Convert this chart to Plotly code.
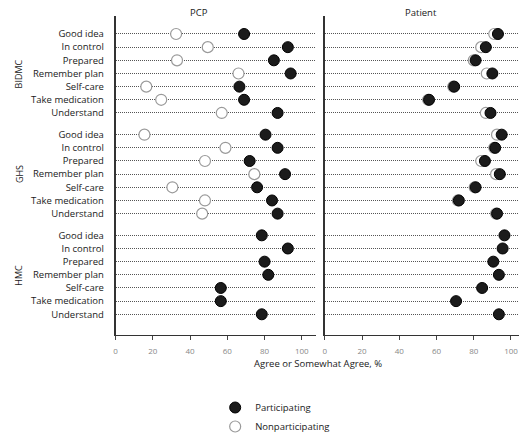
import plotly.graph_objects as go

W, H = 519, 441

sites = ["BIDMC", "GHS", "HMC"]
items = ["Good idea", "In control", "Prepared", "Remember plan",
         "Self-care", "Take medication", "Understand"]
panels = ["PCP", "Patient"]
x_ticks = [0, 20, 40, 60, 80, 100]

# PCP panel
pcp_part_bidmc = [69, 92.5, 85, 94, 66.5, 69, 87]
pcp_non_bidmc = [32.5, 49.5, 33, 66, 16.5, 24.5, 57]
pcp_part_ghs = [80.5, 87, 72, 91, 76, 84, 87]
pcp_non_ghs = [15.5, 59, 48, 74.5, 30.5, 48, 46.5]
pcp_part_hmc = [78.5, 92.5, 80, 82, 56.5, 56.5, 78.5]

# Patient panel
pat_part_bidmc = [93, 86.5, 81, 90, 69.5, 56, 89]
pat_non_bidmc = [91, 84, 80, 87, 69, 55.5, 86.5]
pat_part_ghs = [95, 91.5, 86, 94, 81, 72, 92.5]
pat_non_ghs = [92.5, 91, 84, 92, 80.5, 71.5, 92]
pat_part_hmc = [96.5, 95.5, 90.5, 93.5, 84.5, 70.5, 93.5]

GROUP_STEP = 7.65
def ypos(g):
    return [g * GROUP_STEP + i for i in range(len(items))]

all_y = ypos(0) + ypos(1) + ypos(2)
all_text = items * 3

def px_x(p):
    return p / W
def px_y(p):
    return 1 - p / H

FONT = "Open Sans"
fig = go.Figure()

filled = dict(size=11, color="#1b1b1b", line=dict(color="#000000", width=1))
openm = dict(size=11, color="#ffffff", line=dict(color="#9a9a9a", width=1.2))

# nonparticipating (open) first so filled sit on top
pcp_non = pcp_non_bidmc + pcp_non_ghs
pat_non = pat_non_bidmc + pat_non_ghs
non_y = ypos(0) + ypos(1)
fig.add_trace(go.Scatter(x=pcp_non, y=non_y, mode="markers", marker=openm,
                         xaxis="x", yaxis="y", showlegend=False))
fig.add_trace(go.Scatter(x=pat_non, y=non_y, mode="markers", marker=openm,
                         xaxis="x2", yaxis="y2", showlegend=False))
pcp_part = pcp_part_bidmc + pcp_part_ghs + pcp_part_hmc
pat_part = pat_part_bidmc + pat_part_ghs + pat_part_hmc
fig.add_trace(go.Scatter(x=pcp_part, y=all_y, mode="markers", marker=filled,
                         xaxis="x", yaxis="y", name="Participating", showlegend=True))
fig.add_trace(go.Scatter(x=pat_part, y=all_y, mode="markers", marker=filled,
                         xaxis="x2", yaxis="y2", showlegend=False))
# legend-only entry for nonparticipating
fig.add_trace(go.Scatter(x=[None], y=[None], mode="markers", marker=openm,
                         xaxis="x", yaxis="y", name="Nonparticipating", showlegend=True))

ymin, ymax = -1.33, 2 * GROUP_STEP + 6 + 1.56
ydom = [px_y(345), px_y(17)]

common_x = dict(showgrid=False, zeroline=False, showline=True, linecolor="#333333",
                linewidth=1.3, ticks="outside", ticklen=4, tickcolor="#444444",
                tickvals=x_ticks, ticktext=[str(v) for v in x_ticks],
                tickfont=dict(size=8, color="#888888", family=FONT),
                ticklabelstandoff=4)

grid = dict(showgrid=True, gridcolor="#555555", griddash="1px,1px", gridwidth=1,
            zeroline=False, showline=True, linecolor="#333333", linewidth=1.5)

fig.update_layout(
    width=W, height=H,
    margin=dict(l=0, r=0, t=0, b=0),
    paper_bgcolor="white", plot_bgcolor="white",
    xaxis=dict(common_x, domain=[px_x(114), px_x(315)], range=[0, 107.5], anchor="y"),
    xaxis2=dict(common_x, domain=[px_x(324), 1.0], range=[0, 104.3], anchor="y2"),
    yaxis=dict(grid, domain=ydom, range=[ymax, ymin], tickvals=all_y, ticktext=all_text,
               ticks="outside", ticklen=8, tickcolor="rgba(0,0,0,0)",
               tickfont=dict(size=9.5, color="#1a1a1a", family=FONT),
               anchor="x"),
    yaxis2=dict(grid, domain=ydom, range=[ymax, ymin], tickvals=all_y,
                showticklabels=False, anchor="x2"),
    showlegend=True,
    legend=dict(x=px_x(214), y=px_y(405), xanchor="left", yanchor="top",
                font=dict(size=9.5, color="#1a1a1a", family=FONT),
                bgcolor="rgba(0,0,0,0)", tracegroupgap=0, itemsizing="trace"),
)

anns = []
for g, s in enumerate(sites):
    anns.append(dict(text=s, x=px_x(17), xref="paper", y=g * GROUP_STEP + 3, yref="y",
                     textangle=-90, showarrow=False, xanchor="center", yanchor="middle",
                     font=dict(size=9, color="#1a1a1a", family=FONT)))
anns.append(dict(text=panels[0], x=px_x(198), y=px_y(13), xref="paper", yref="paper",
                 xanchor="center", yanchor="middle", showarrow=False,
                 font=dict(size=9.5, color="#1a1a1a", family=FONT)))
anns.append(dict(text=panels[1], x=px_x(421), y=px_y(13), xref="paper", yref="paper",
                 xanchor="center", yanchor="middle", showarrow=False,
                 font=dict(size=9.5, color="#1a1a1a", family=FONT)))
anns.append(dict(text="Agree or Somewhat Agree, %", x=px_x(317), y=px_y(375),
                 xref="paper", yref="paper", showarrow=False,
                 xanchor="center", yanchor="middle",
                 font=dict(size=9.5, color="#1a1a1a", family=FONT)))
fig.update_layout(annotations=anns)

fig.write_html("out.html", config={"displayModeBar": False},
               post_script="document.body.style.margin='0px';document.body.style.overflow='hidden';")
